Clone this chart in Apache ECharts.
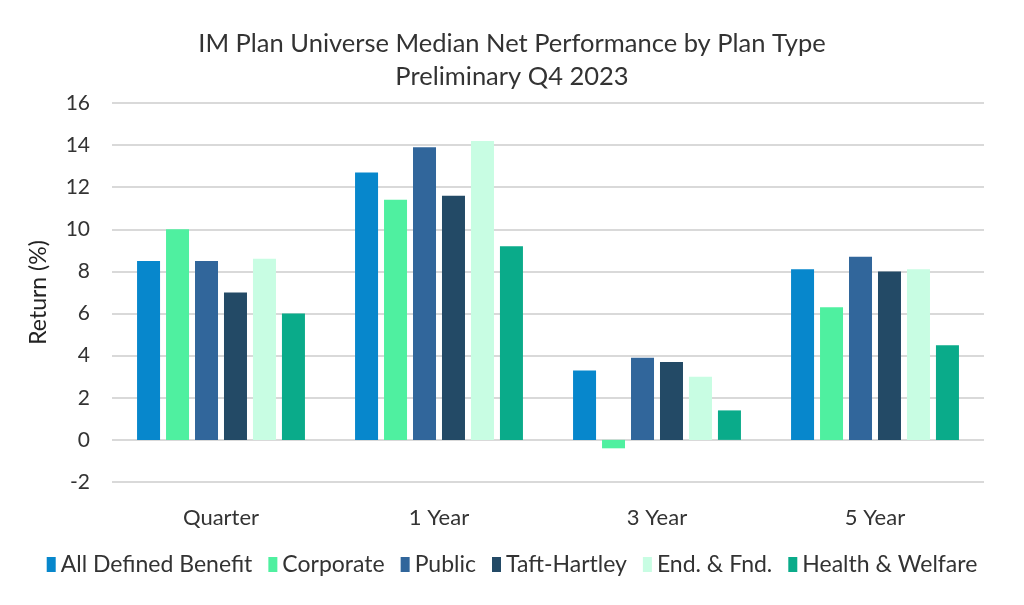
<!DOCTYPE html>
<html><head><meta charset="utf-8">
<script src="https://cdn.jsdelivr.net/npm/echarts@6/dist/echarts.min.js"></script>
<style>html,body{margin:0;padding:0;background:#fff}#c{width:1024px;height:605px}</style>
</head><body><div id="c"></div>
<script>
const categories = ['Quarter', '1 Year', '3 Year', '5 Year'];
const seriesNames = ['All Defined Benefit', 'Corporate', 'Public', 'Taft-Hartley', 'End. & Fnd.', 'Health & Welfare'];
const allDefinedBenefit = [8.5, 12.7, 3.3, 8.1];
const corporate = [10.0, 11.4, -0.4, 6.3];
const publicPlans = [8.5, 13.9, 3.9, 8.7];
const taftHartley = [7.0, 11.6, 3.7, 8.0];
const endFnd = [8.6, 14.2, 3.0, 8.1];
const healthWelfare = [6.0, 9.2, 1.4, 4.5];
const yTicks = [-2, 0, 2, 4, 6, 8, 10, 12, 14, 16];
const colors = ['#0787cc', '#4ff0a0', '#31669b', '#234a66', '#c8fde3', '#0aab8a'];

const values = [allDefinedBenefit, corporate, publicPlans, taftHartley, endFnd, healthWelfare];
const font = 'Lato, "Liberation Sans", sans-serif';
const chart = echarts.init(document.getElementById('c'));
chart.setOption({
  animation: false,
  color: colors,
  textStyle: { fontFamily: font },
  title: {
    text: 'IM Plan Universe Median Net Performance by Plan Type\nPreliminary Q4 2023',
    left: 'center', top: 22,
    textStyle: { fontFamily: font, fontSize: 25.5, fontWeight: 'normal', color: '#333', lineHeight: 33 }
  },
  legend: {
    bottom: 24, left: 'center',
    itemWidth: 9, itemHeight: 15, itemGap: 16,
    icon: 'rect',
    textStyle: { fontFamily: font, fontSize: 23, color: '#333', padding: [0, 0, 0, 0] },
    data: seriesNames
  },
  grid: { left: 112, right: 40, top: 103, bottom: 123 },
  xAxis: {
    type: 'category', data: categories,
    axisLine: { show: false, onZero: false }, axisTick: { show: false },
    axisLabel: { fontSize: 22, color: '#333', margin: 25, fontFamily: font }
  },
  yAxis: {
    type: 'value', min: yTicks[0], max: yTicks[yTicks.length - 1], interval: 2,
    name: 'Return (%)', nameLocation: 'middle', nameGap: 62, nameRotate: 90,
    nameTextStyle: { fontSize: 23, color: '#222', fontFamily: font },
    axisLine: { show: false }, axisTick: { show: false },
    axisLabel: { fontSize: 21, color: '#333', margin: 22, fontFamily: font },
    splitLine: { lineStyle: { color: '#d9d9d9', width: 2 } }
  },
  series: seriesNames.map((n, i) => ({
    name: n, type: 'bar', data: values[i],
    barWidth: 23, barGap: '26%'
  }))
});
</script></body></html>
